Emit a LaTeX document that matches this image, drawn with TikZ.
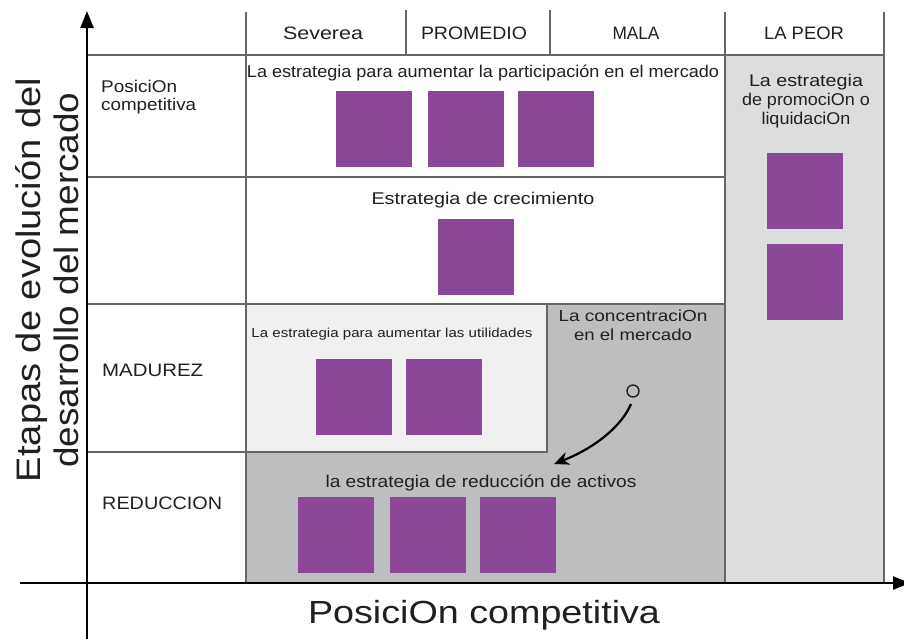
\documentclass[tikz,border=0pt]{standalone}
\usepackage{fontspec}
\setmainfont{Liberation Sans}
\usetikzlibrary{arrows.meta}
\definecolor{gridc}{HTML}{666666}
\definecolor{purp}{HTML}{8B4897}
\definecolor{lightbox}{HTML}{F0F0F0}
\definecolor{darkbox}{HTML}{BDBEC0}
\definecolor{colbox}{HTML}{DCDDDF}
\definecolor{ink}{HTML}{231F20}
\newcommand\wfit[2]{\resizebox{#1pt}{\height}{#2}}
\newcommand\fsz[1]{\fontsize{#1}{#1}\selectfont}
\begin{document}
\begin{tikzpicture}[x=1pt,y=-1pt,
  gridline/.style={draw=gridc,line width=2.5pt},
  axisline/.style={draw=black,line width=2.5pt},
  sq/.style={fill=purp,draw=none,minimum size=76pt,inner sep=0pt,outer sep=0pt,anchor=north west},
  lbl/.style={text=ink,inner sep=0pt,anchor=base},
  lbll/.style={text=ink,inner sep=0pt,anchor=base west},
]
\useasboundingbox (0,0) rectangle (904,638);
\clip (0,0) rectangle (904,638);
\fill[white] (0,0) rectangle (904,638);
% fills
\fill[colbox] (725,55) rectangle (884,583);
\fill[darkbox] (547,304) rectangle (725,583);
\fill[darkbox] (246,452) rectangle (547,583);
\fill[lightbox] (246,304) rectangle (547,452);
% squares
\node[sq] (a1) at (336,91) {};
\node[sq] (a2) at (428,91) {};
\node[sq] (a3) at (518,91) {};
\node[sq] (b1) at (438,219) {};
\node[sq] (c1) at (316,359) {};
\node[sq] (c2) at (406,359) {};
\node[sq] (d1) at (298,497) {};
\node[sq] (d2) at (390,497) {};
\node[sq] (d3) at (480,497) {};
\node[sq] (e1) at (767,153) {};
\node[sq] (e2) at (767,244) {};
% grid
\draw[gridline] (87,55) -- (884,55);
\draw[gridline] (87,177) -- (725,177);
\draw[gridline] (87,304) -- (725,304);
\draw[gridline] (87,452) -- (548,452);
\draw[gridline] (547,304) -- (547,453);
\draw[gridline] (246,12) -- (246,583);
\draw[gridline] (406,10) -- (406,54);
\draw[gridline] (550,10) -- (550,54);
\draw[gridline] (725,12) -- (725,583);
\draw[gridline] (884,12) -- (884,583);
% axes
\coordinate (yb) at (87,645);
\coordinate (yt) at (87,11);
\coordinate (xl) at (20,583);
\coordinate (xr) at (910,583);
\draw[axisline,-{Triangle[length=17pt,width=13pt]}] (yb) -- (yt);
\draw[axisline,-{Triangle[length=17pt,width=13pt]}] (xl) -- (xr);
% header
\node[lbl,font=\fsz{18}] (h1) at (323,39) {\wfit{80}{Severea}};
\node[lbl,font=\fsz{18}] (h2) at (474,39) {\wfit{106}{PROMEDIO}};
\node[lbl,font=\fsz{18}] (h3) at (636,39) {\wfit{47}{MALA}};
\node[lbl,font=\fsz{18}] (h4) at (804,39) {\wfit{80}{LA PEOR}};
% row labels
\node[lbll,font=\fsz{17}] (r1a) at (101,92) {\wfit{76}{PosiciOn}};
\node[lbll,font=\fsz{17}] (r1b) at (101,110) {\wfit{95}{competitiva}};
\node[lbll,font=\fsz{18}] (r3) at (102,376) {\wfit{101}{MADUREZ}};
\node[lbll,font=\fsz{18}] (r4) at (102,509) {\wfit{120}{REDUCCION}};
% strategy texts
\node[lbl,font=\fsz{17}] (t1) at (483,77) {\wfit{472}{La estrategia para aumentar la participación en el mercado}};
\node[lbl,font=\fsz{17}] (t2) at (483,204) {\wfit{223}{Estrategia de crecimiento}};
\node[lbl,font=\fsz{13}] (t3) at (392,337) {\wfit{281}{La estrategia para aumentar las utilidades}};
\node[lbl,font=\fsz{16}] (t4a) at (633,321) {\wfit{149}{La concentraciOn}};
\node[lbl,font=\fsz{16}] (t4b) at (633,340) {\wfit{118}{en el mercado}};
\node[lbl,font=\fsz{17}] (t5) at (481,487) {\wfit{311}{la estrategia de reducción de activos}};
\node[lbl,font=\fsz{17}] (t6a) at (806,86) {\wfit{114}{La estrategia}};
\node[lbl,font=\fsz{17}] (t6b) at (806,105) {\wfit{128}{de promociOn o}};
\node[lbl,font=\fsz{17}] (t6c) at (806,124) {\wfit{89}{liquidaciOn}};
% axis titles
\node[lbl,font=\fsz{32}] (xt) at (484,623) {\wfit{352}{PosiciOn competitiva}};
\node[lbl,font=\fsz{34},rotate=90] (yt1) at (40,280) {\wfit{404}{Etapas de evolución del}};
\node[lbl,font=\fsz{34},rotate=90] (yt2) at (78,280) {\wfit{375}{desarrollo del mercado}};
% circle and arrow
\node[draw=ink,line width=1.4pt,circle,minimum size=12pt,inner sep=0pt,outer sep=0pt] (circ) at (633,391) {};
\coordinate (arrEnd) at (554,464);
\draw[line width=2.2pt,black,-{Stealth[length=15pt,width=13pt]}] ([xshift=-2pt,yshift=-7pt]circ.south) .. controls (622,425) and (597,447) .. (arrEnd);
\end{tikzpicture}
\end{document}
